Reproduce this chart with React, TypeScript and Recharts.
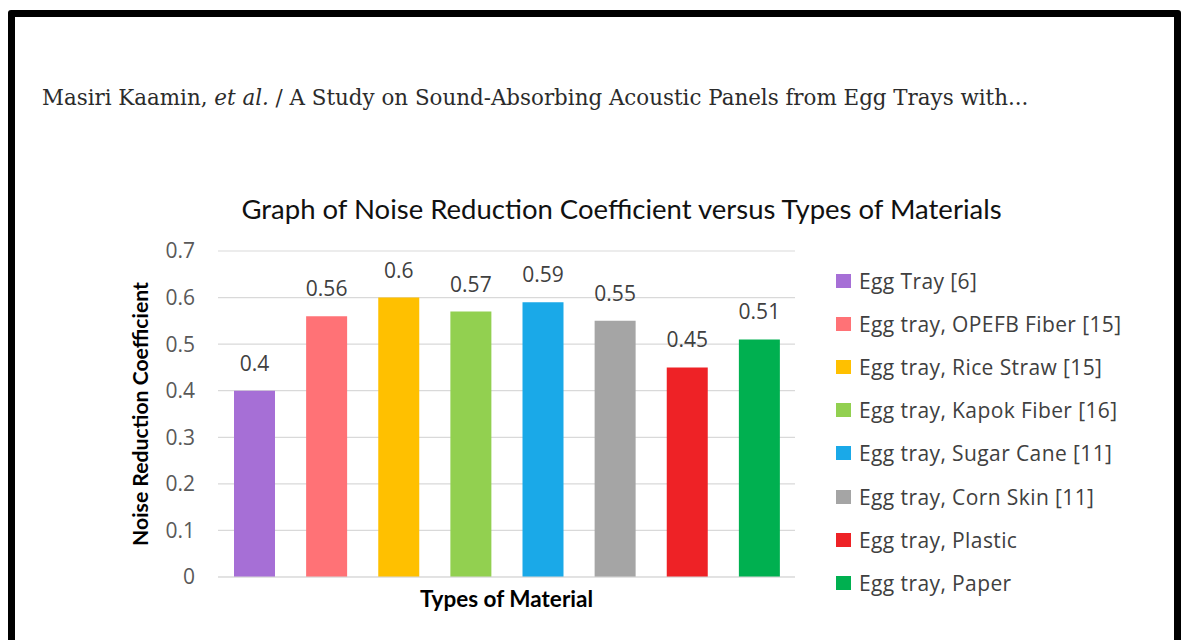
import React from "react";
import { BarChart, Bar, XAxis, YAxis, CartesianGrid, Cell, LabelList } from "recharts";

// Materials and their NRC values
const materials = [
  "Egg Tray [6]",
  "Egg tray, OPEFB Fiber [15]",
  "Egg tray, Rice Straw [15]",
  "Egg tray, Kapok Fiber [16]",
  "Egg tray, Sugar Cane [11]",
  "Egg tray, Corn Skin [11]",
  "Egg tray, Plastic",
  "Egg tray, Paper"
];
const nrcValues = [0.4, 0.56, 0.6, 0.57, 0.59, 0.55, 0.45, 0.51];
const barColors = ["#A66FD6", "#FF7276", "#FFC000", "#92D050", "#1AA9E8", "#A5A5A5", "#EE2226", "#00B050"];
const yTicks = [0, 0.1, 0.2, 0.3, 0.4, 0.5, 0.6, 0.7];

const data = materials.map((name, i) => ({ name, nrc: nrcValues[i] }));

const sans = "Lato, 'Open Sans', sans-serif";
const wide = "'Open Sans', Lato, sans-serif";

export default function App() {
  return (
    <div style={{ position: "absolute", left: 0, top: 0, width: 1181, height: 640, background: "#fff", overflow: "hidden" }}>
      {/* black page frame */}
      <div
        style={{
          position: "absolute",
          left: 8,
          top: 10,
          width: 1159,
          height: 700,
          border: "7px solid #000",
          borderRadius: 3
        }}
      />
      {/* running header */}
      <div
        style={{
          position: "absolute",
          left: 42,
          top: 85,
          fontFamily: "'DejaVu Serif', serif",
          fontSize: 21.4,
          color: "#2b2b2b",
          whiteSpace: "nowrap"
        }}
      >
        Masiri Kaamin, <i>et al.</i> / A Study on Sound-Absorbing Acoustic Panels from Egg Trays with...
      </div>
      {/* chart title */}
      <div
        style={{
          position: "absolute",
          left: 0,
          width: 1243,
          top: 192,
          textAlign: "center",
          fontFamily: sans,
          fontSize: 27.5,
          color: "#111",
          whiteSpace: "nowrap"
        }}
      >
        Graph of Noise Reduction Coefficient versus Types of Materials
      </div>

      <div style={{ position: "absolute", left: 0, top: 0 }}>
        <BarChart width={1181} height={640} data={data} margin={{ top: 251, right: 386, bottom: 23, left: 128 }}>
          <CartesianGrid vertical={false} stroke="#D9D9D9" strokeWidth={1.2} />
          <XAxis
            dataKey="name"
            tick={false}
            tickLine={false}
            axisLine={{ stroke: "#D9D9D9" }}
            height={40}
            label={{
              content: (props: any) => {
                const vb = props.viewBox;
                return (
                  <text
                    x={vb.x + vb.width / 2}
                    y={vb.y + 21}
                    textAnchor="middle"
                    dominantBaseline="central"
                    fontFamily={sans}
                    fontWeight={700}
                    fontSize={22.5}
                    fill="#000"
                  >
                    Types of Material
                  </text>
                );
              }
            }}
          />
          <YAxis
            width={90}
            domain={[0, 0.7]}
            ticks={yTicks}
            tickFormatter={(v: number) => (v === 0 ? "0" : v.toFixed(1))}
            axisLine={false}
            tickLine={false}
            tickMargin={17}
            tick={{ fill: "#595959", fontSize: 21, fontFamily: wide }}
            label={{
              content: (props: any) => {
                const vb = props.viewBox;
                const cx = vb.x + 12;
                const cy = vb.y + vb.height / 2;
                return (
                  <text
                    x={cx}
                    y={cy}
                    transform={`rotate(-90 ${cx} ${cy})`}
                    textAnchor="middle"
                    dominantBaseline="central"
                    fontFamily={sans}
                    fontWeight={700}
                    fontSize={21.2}
                    fill="#000"
                  >
                    Noise Reduction Coefficient
                  </text>
                );
              }
            }}
          />
          <Bar dataKey="nrc" barSize={41} isAnimationActive={false}>
            {data.map((d, i) => (
              <Cell key={d.name} fill={barColors[i]} />
            ))}
            <LabelList dataKey="nrc" position="top" offset={20} fill="#404040" fontSize={21} fontFamily={wide} />
          </Bar>
        </BarChart>
      </div>

      {/* legend */}
      <div
        style={{
          position: "absolute",
          left: 836,
          top: 259,
          fontFamily: wide,
          fontSize: 21,
          letterSpacing: 0.4,
          color: "#404040"
        }}
      >
        {materials.map((m, i) => (
          <div key={m} style={{ display: "flex", alignItems: "center", height: 43.2, whiteSpace: "nowrap" }}>
            <span style={{ display: "inline-block", width: 15, height: 14, background: barColors[i], marginRight: 8 }} />
            <span>{m}</span>
          </div>
        ))}
      </div>
    </div>
  );
}
